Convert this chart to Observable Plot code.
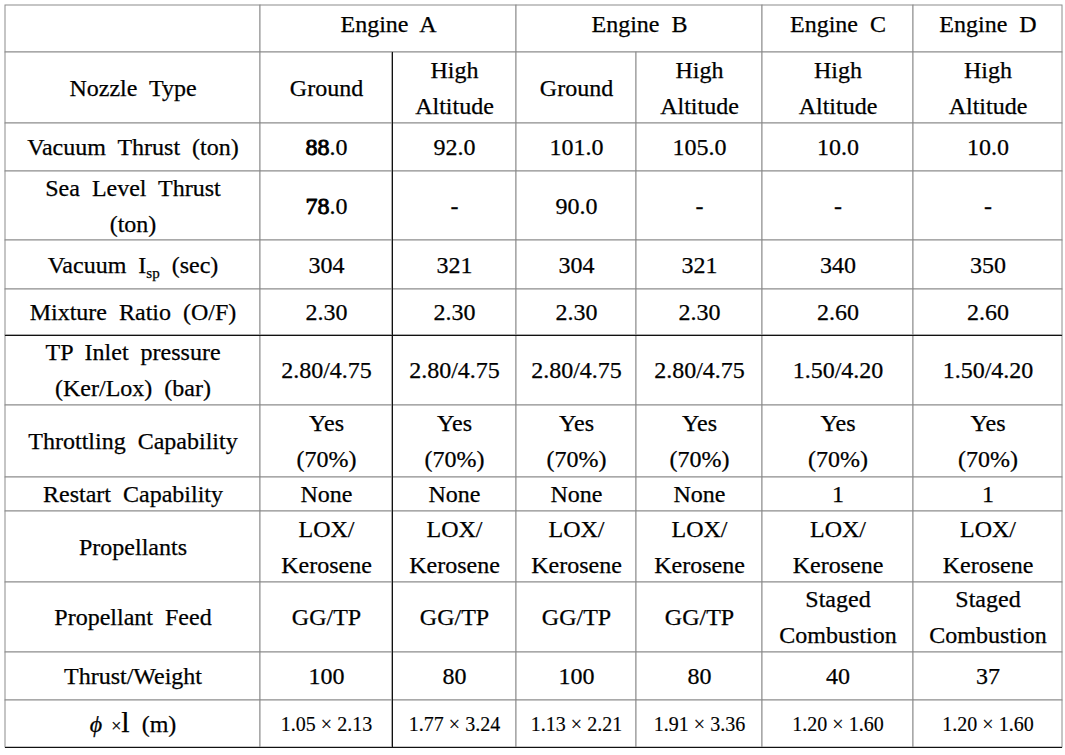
<!DOCTYPE html>
<html>
<head>
<meta charset="utf-8">
<script src="https://cdn.jsdelivr.net/npm/d3@7"></script>
<script src="https://cdn.jsdelivr.net/npm/@observablehq/plot@0.6"></script>
<style>
  html, body { margin: 0; padding: 0; background: #fff; }
  #chart svg text, #chart svg tspan { white-space: pre; }
</style>
</head>
<body>
<div id="chart"></div>
<script>
// ---- Data ----
const engines = ["Engine  A", "Engine  B", "Engine  C", "Engine  D"];
const rowLabels = [
  "Nozzle  Type",
  "Vacuum  Thrust  (ton)",
  "Sea  Level  Thrust\n(ton)",
  "Vacuum  Isp  (sec)",
  "Mixture  Ratio  (O/F)",
  "TP  Inlet  pressure\n(Ker/Lox)  (bar)",
  "Throttling  Capability",
  "Restart  Capability",
  "Propellants",
  "Propellant  Feed",
  "Thrust/Weight",
  "ϕ  ×l  (m)"
];
const nozzleType = ["Ground", "High\nAltitude", "Ground", "High\nAltitude", "High\nAltitude", "High\nAltitude"];
const vacuumThrust = ["88.0", "92.0", "101.0", "105.0", "10.0", "10.0"];
const seaLevelThrust = ["78.0", "-", "90.0", "-", "-", "-"];
const vacuumIsp = ["304", "321", "304", "321", "340", "350"];
const mixtureRatio = ["2.30", "2.30", "2.30", "2.30", "2.60", "2.60"];
const tpInletPressure = ["2.80/4.75", "2.80/4.75", "2.80/4.75", "2.80/4.75", "1.50/4.20", "1.50/4.20"];
const throttling = ["Yes\n(70%)", "Yes\n(70%)", "Yes\n(70%)", "Yes\n(70%)", "Yes\n(70%)", "Yes\n(70%)"];
const restart = ["None", "None", "None", "None", "1", "1"];
const propellants = ["LOX/\nKerosene", "LOX/\nKerosene", "LOX/\nKerosene", "LOX/\nKerosene", "LOX/\nKerosene", "LOX/\nKerosene"];
const propellantFeed = ["GG/TP", "GG/TP", "GG/TP", "GG/TP", "Staged\nCombustion", "Staged\nCombustion"];
const thrustWeight = ["100", "80", "100", "80", "40", "37"];
const dimensions = ["1.05 × 2.13", "1.77 × 3.24", "1.13 × 2.21", "1.91 × 3.36", "1.20 × 1.60", "1.20 × 1.60"];

const rowValues = [nozzleType, vacuumThrust, seaLevelThrust, vacuumIsp, mixtureRatio, tpInletPressure,
  throttling, restart, propellants, propellantFeed, thrustWeight, dimensions];

// ---- Layout (table grid units) ----
const colEdges = [0, 255, 387, 511, 631, 757, 908, 1057];
const rowEdges = [0, 47, 118, 166, 235, 284, 330, 400, 472, 506, 577, 647, 695, 742];
const engineSpans = [[1, 3], [3, 5], [5, 6], [6, 7]];

// ---- Build cells ----
const cells = [];
cells.push({x1: colEdges[0], x2: colEdges[1], y1: rowEdges[0], y2: rowEdges[1], text: "", kind: "head"});
engines.forEach((e, i) => {
  const [a, b] = engineSpans[i];
  cells.push({x1: colEdges[a], x2: colEdges[b], y1: rowEdges[0], y2: rowEdges[1], text: e, kind: "head"});
});
rowLabels.forEach((lab, r) => {
  const y1 = rowEdges[r + 1], y2 = rowEdges[r + 2];
  cells.push({x1: colEdges[0], x2: colEdges[1], y1, y2, text: lab, kind: "label"});
  rowValues[r].forEach((v, c) => {
    cells.push({x1: colEdges[c + 1], x2: colEdges[c + 2], y1, y2, text: v,
      kind: r === rowLabels.length - 1 ? "small" : "value"});
  });
});

const FONT = "Liberation Serif";
const textStyle = {
  x: d => (d.x1 + d.x2) / 2,
  y: d => (d.y1 + d.y2) / 2,
  text: "text",
  fontFamily: FONT,
  fill: "#000",
  stroke: "#000",
  strokeWidth: 0.25,
  lineHeight: 1.5
};
const W = 1065, H = 755;
const chart = Plot.plot({
  width: W,
  height: H,
  marginLeft: 5,
  marginRight: 3,
  marginTop: 5,
  marginBottom: 8,
  x: {domain: [0, colEdges[colEdges.length - 1]], axis: null},
  y: {domain: [0, rowEdges[rowEdges.length - 1]], reverse: true, axis: null},
  style: {background: "#fff"},
  marks: [
    Plot.rect(cells, {x1: "x1", x2: "x2", y1: "y1", y2: "y2", fill: "#fff", stroke: "#8c8c8c", strokeWidth: 1}),
    Plot.ruleX([colEdges[2]], {y1: rowEdges[1], y2: rowEdges[rowEdges.length - 1], stroke: "#111", strokeWidth: 1}),
    Plot.ruleY([rowEdges[6], rowEdges[rowEdges.length - 1]], {x1: 0, x2: colEdges[colEdges.length - 1], stroke: "#111", strokeWidth: 1}),
    Plot.text(cells.filter(d => d.kind === "head"), {...textStyle, fontSize: 24, dy: -9}),
    Plot.text(cells.filter(d => d.kind === "label" || d.kind === "value"), {...textStyle, fontSize: 24, dy: -4}),
    Plot.text(cells.filter(d => d.kind === "small"), {...textStyle, fontSize: 20, strokeWidth: 0.15, dy: -3})
  ]
});

// Subscript / glyph refinements (kept as real text)
const ns = "http://www.w3.org/2000/svg";
const span = (txt, attrs = {}) => {
  const s = document.createElementNS(ns, "tspan");
  s.textContent = txt;
  for (const k in attrs) s.setAttribute(k, attrs[k]);
  return s;
};
chart.querySelectorAll("text").forEach(t => {
  const s = t.textContent;
  if (s === "Vacuum  Isp  (sec)") {
    t.textContent = "";
    t.append(span("Vacuum  I"), span("sp", {"font-size": 15, dy: 5}), span("  (sec)", {dy: -5}));
  } else if (s === "ϕ  ×l  (m)") {
    t.textContent = "";
    t.append(span("ϕ", {"font-style": "italic"}), span("  ×", {"font-size": 18}), span("l", {"font-size": 30}), span("  (m)"));
  } else if (s === "88.0" || s === "78.0") {
    t.textContent = "";
    t.append(span(s.slice(0, 2), {"stroke-width": 0.9}), span(s.slice(2)));
  }
});

document.getElementById("chart").append(chart);
</script>
</body>
</html>
